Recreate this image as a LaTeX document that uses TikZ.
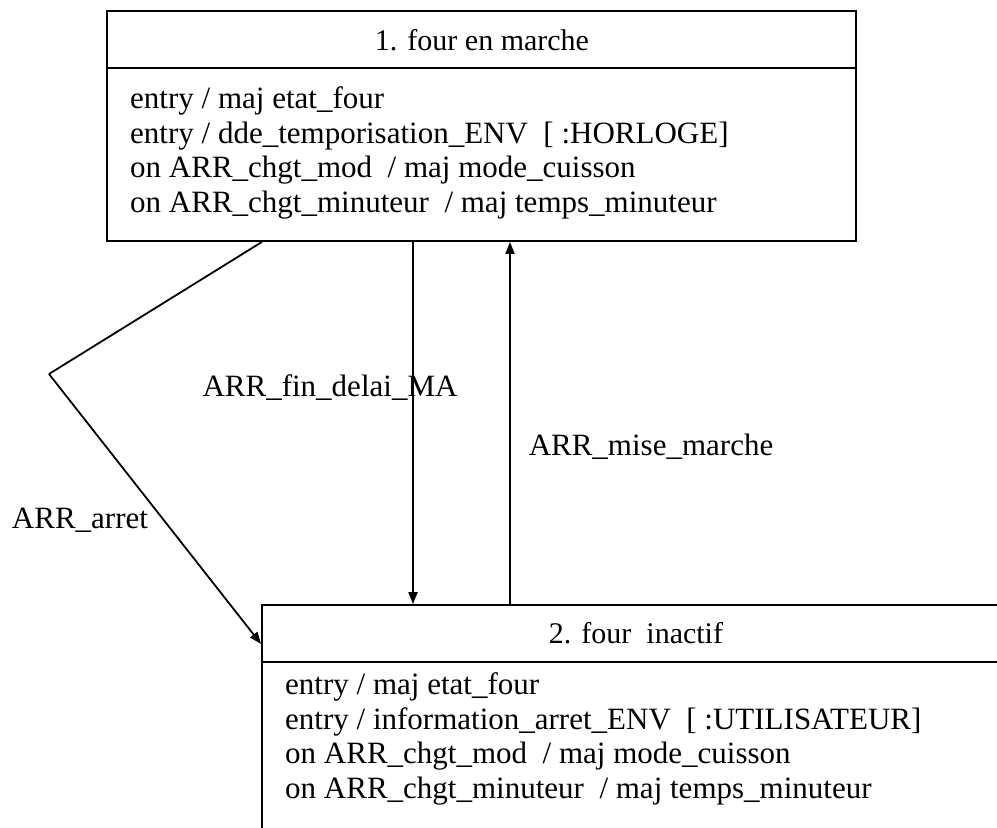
\documentclass[tikz,border=0pt]{standalone}
\usepackage{fontspec}
\setmainfont{Liberation Serif}
\usetikzlibrary{arrows.meta}
\tikzset{
  statebox/.style={draw, line width=1.8pt, rectangle, inner sep=0pt},
  sep/.style={line width=1.8pt},
  trans/.style={line width=1.8pt, -{Triangle[length=12pt,width=9pt]}},
  plain/.style={line width=1.8pt},
  txt/.style={inner sep=0pt, font=\fontsize{31}{34.5}\selectfont},
  title/.style={inner sep=0pt, font=\fontsize{30}{34}\selectfont},
  rows/.style={txt, align=left, anchor=west},
}
\begin{document}
\begin{tikzpicture}[x=1pt,y=-1pt]
\useasboundingbox (0,0) rectangle (997,828);
\fill[white] (0,0) rectangle (997,828);
\clip (0,0) rectangle (997,828);

% state 1: oven running
\node[statebox, minimum width=749pt, minimum height=230pt] (on) at (481.5,126) {};
\draw[sep] (on.west |- 0,68) -- (on.east |- 0,68);
\node[title] (onname) at (482,40) {1. four en marche};
\node[rows] (onacts) at (130,153) {entry / maj etat\_four\\
entry / dde\_temporisation\_ENV~~[ :HORLOGE]\\
on ARR\_chgt\_mod~~/ maj mode\_cuisson\\
on ARR\_chgt\_minuteur~~/ maj temps\_minuteur};

% state 2: oven idle
\node[statebox, minimum width=738pt, minimum height=255pt] (off) at (631,732.5) {};
\draw[sep] (off.west |- 0,662) -- (off.east |- 0,662);
\node[title] (offname) at (636,633) {2. four~ inactif};
\node[rows] (offacts) at (285,739) {entry / maj etat\_four\\
entry / information\_arret\_ENV~~[ :UTILISATEUR]\\
on ARR\_chgt\_mod~~/ maj mode\_cuisson\\
on ARR\_chgt\_minuteur~~/ maj temps\_minuteur};

% transitions
\coordinate (bend) at (49,374);
\draw[plain] (on.south -| 262,0) -- (bend);
\draw[trans] (bend) -- (off.west |- 0,644);
\draw[trans] (on.south -| 413,0) -- (off.north -| 413,0);
\draw[trans] (off.north -| 510,0) -- (on.south -| 510,0);

% transition labels
\node[txt] (lfin) at (330,388) {ARR\_fin\_delai\_MA};
\node[txt] (lmise) at (651,447) {ARR\_mise\_marche};
\node[txt] (larret) at (80,520) {ARR\_arret};
\end{tikzpicture}
\end{document}
